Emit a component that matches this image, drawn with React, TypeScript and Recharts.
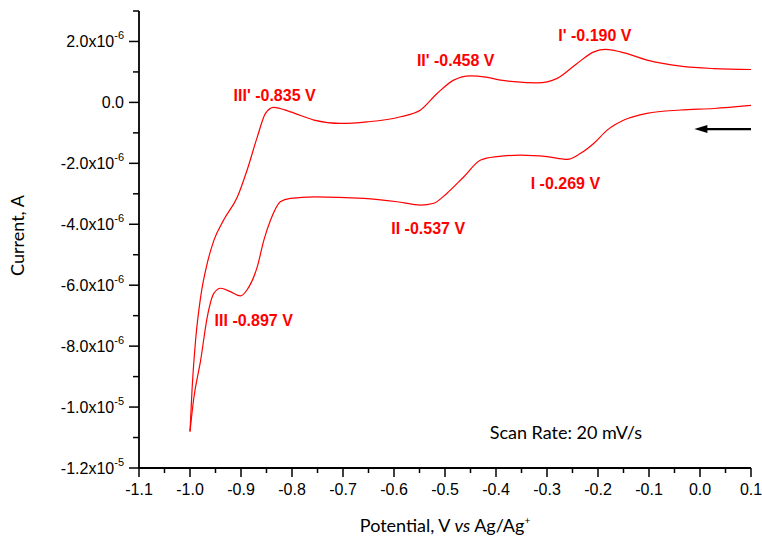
import React from 'react';
import { LineChart, Line, XAxis, YAxis, ReferenceDot, ReferenceLine } from 'recharts';

// cyclic voltammogram, values (current in µA)
// cathodic sweep runs 0.1 -> -1.0 V, stored here in ascending potential
const cathodicPotential = [-1.0, -0.993, -0.979, -0.966, -0.953, -0.94, -0.921, -0.901, -0.888, -0.868, -0.855, -0.842, -0.823, -0.803, -0.757, -0.659, -0.594, -0.548, -0.522, -0.496, -0.463, -0.43, -0.398, -0.352, -0.3, -0.26, -0.234, -0.208, -0.182, -0.149, -0.104, -0.038, 0.027, 0.1];
const cathodicCurrent = [-10.8, -9.76, -8.45, -7.03, -6.26, -6.1, -6.21, -6.35, -6.15, -5.39, -4.51, -3.86, -3.26, -3.15, -3.1, -3.15, -3.26, -3.37, -3.31, -2.98, -2.44, -1.89, -1.78, -1.73, -1.78, -1.87, -1.67, -1.34, -0.91, -0.58, -0.36, -0.25, -0.2, -0.1];

// anodic sweep -1.0 -> 0.1 V
const anodicPotential = [-1.0, -0.996, -0.989, -0.979, -0.966, -0.953, -0.934, -0.907, -0.888, -0.868, -0.852, -0.836, -0.803, -0.757, -0.705, -0.653, -0.587, -0.548, -0.515, -0.483, -0.45, -0.42, -0.391, -0.365, -0.319, -0.28, -0.241, -0.208, -0.185, -0.156, -0.104, -0.038, 0.027, 0.1];
const anodicCurrent = [-10.8, -9.43, -7.8, -6.37, -5.27, -4.52, -3.86, -3.1, -2.22, -1.13, -0.36, -0.16, -0.31, -0.58, -0.69, -0.64, -0.47, -0.25, 0.3, 0.73, 0.87, 0.83, 0.73, 0.68, 0.64, 0.79, 1.28, 1.66, 1.74, 1.66, 1.39, 1.19, 1.11, 1.08];

const peakLabels = ["I' -0.190 V", "II' -0.458 V", "III' -0.835 V", 'I -0.269 V', 'II -0.537 V', 'III -0.897 V'];
const peakLabelX = [-0.206, -0.479, -0.834, -0.264, -0.533, -0.875];
const peakLabelY = [2.21, 1.4, 0.24, -2.66, -4.13, -7.14];

const xTicks = [-1.1, -1.05, -1.0, -0.95, -0.9, -0.85, -0.8, -0.75, -0.7, -0.65, -0.6, -0.55, -0.5, -0.45, -0.4, -0.35, -0.3, -0.25, -0.2, -0.15, -0.1, -0.05, 0.0, 0.05, 0.1];
const yTicksMicro = [-12, -11, -10, -9, -8, -7, -6, -5, -4, -3, -2, -1, 0, 1, 2, 3];

const uA = 1e-6;
const cathodic = cathodicPotential.map((p, i) => ({ potential: p, current: cathodicCurrent[i] * uA }));
const anodic = anodicPotential.map((p, i) => ({ potential: p, current: anodicCurrent[i] * uA }));
const yTicks = yTicksMicro.map((v) => v * uA);

const tickFont = '"Liberation Sans", Arial, sans-serif';
const titleFont = 'Lato, "Open Sans", sans-serif';

const XTick = (props: any) => {
  const { x, y, payload } = props;
  const v = payload.value as number;
  const major = Math.round(v * 100) % 10 === 0;
  return (
    <g>
      <line x1={x} y1={y} x2={x} y2={y + (major ? 9 : 5)} stroke="#000" strokeWidth={1.5} />
      {major && (
        <text x={x} y={y + 27} textAnchor="middle" fontFamily={tickFont} fontSize={16} fill="#000">
          {v.toFixed(1)}
        </text>
      )}
    </g>
  );
};

const YTick = (props: any) => {
  const { x, y, payload } = props;
  const v = payload.value as number;
  const micro = Math.round(v / uA);
  const major = micro % 2 === 0;
  let main = '0.0';
  let exp = '';
  if (micro !== 0) {
    const e = Math.floor(Math.log10(Math.abs(v)) + 1e-9);
    main = (v / Math.pow(10, e)).toFixed(1) + 'x10';
    exp = String(e);
  }
  return (
    <g>
      <line x1={x} y1={y} x2={x - (major ? 10 : 6)} y2={y} stroke="#000" strokeWidth={1.5} />
      {major && (
        <text x={x - 15} y={y + 6} textAnchor="end" fontFamily={tickFont} fontSize={16} fill="#000">
          {main}
          {exp && (
            <tspan fontSize={11} dy={-8}>
              {exp}
            </tspan>
          )}
        </text>
      )}
    </g>
  );
};

const Arrow = (props: any) => {
  const { x1, y1, x2, y2 } = props;
  const left = Math.min(x1, x2);
  const right = Math.max(x1, x2);
  return (
    <g>
      <line x1={right} y1={y1} x2={left + 8} y2={y2} stroke="#000" strokeWidth={2.2} />
      <polygon points={`${left},${y1} ${left + 13},${y1 - 4} ${left + 13},${y1 + 4}`} fill="#000" />
    </g>
  );
};

export default function App() {
  return (
    <div style={{ position: 'absolute', left: 0, top: 0, background: '#fff' }}>
      <LineChart width={762} height={539} margin={{ top: 11, right: 11, left: 0, bottom: 0 }}>
        <XAxis
          dataKey="potential"
          type="number"
          domain={[-1.1, 0.1]}
          ticks={xTicks}
          interval={0}
          allowDataOverflow
          tickSize={0}
          tickMargin={0}
          tickLine={false}
          tick={<XTick />}
          axisLine={{ stroke: '#000', strokeWidth: 1.8 }}
          height={71}
          label={(p: any) => {
            const vb = p.viewBox;
            const cx = vb.x + vb.width / 2;
            return (
              <text x={cx} y={532} textAnchor="middle" fontFamily={titleFont} fontSize={18} fill="#000">
                Potential, V <tspan fontStyle="italic">vs</tspan> Ag/Ag
                <tspan fontSize={10} dy={-8}>+</tspan>
              </text>
            );
          }}
        />
        <YAxis
          dataKey="current"
          type="number"
          domain={[-12e-6, 3e-6]}
          ticks={yTicks}
          interval={0}
          allowDataOverflow
          tickSize={0}
          tickMargin={0}
          tickLine={false}
          tick={<YTick />}
          axisLine={{ stroke: '#000', strokeWidth: 1.8 }}
          width={139}
          label={(p: any) => {
            const vb = p.viewBox;
            const cy = vb.y + vb.height / 2 - 4;
            return (
              <text x={24} y={cy} textAnchor="middle" fontFamily={titleFont} fontSize={18} fill="#000" transform={`rotate(-90, 24, ${cy})`}>
                Current, A
              </text>
            );
          }}
        />
        <Line data={cathodic} dataKey="current" type="monotone" stroke="#ff0000" strokeWidth={1.2} dot={false} isAnimationActive={false} />
        <Line data={anodic} dataKey="current" type="monotone" stroke="#ff0000" strokeWidth={1.2} dot={false} isAnimationActive={false} />
        {peakLabels.map((t, i) => (
          <ReferenceDot
            key={t}
            x={peakLabelX[i]}
            y={peakLabelY[i] * uA}
            r={0}
            shape={(s: any) => (
              <text x={s.cx} y={s.cy} dy={6} textAnchor="middle" fontFamily={tickFont} fontWeight="bold" fontSize={16} fill="#ff0000">
                {t}
              </text>
            )}
          />
        ))}
        <ReferenceDot
          x={-0.263}
          y={-10.84 * uA}
          r={0}
          shape={(s: any) => (
            <text x={s.cx} y={s.cy} dy={6} textAnchor="middle" fontFamily={titleFont} fontSize={18} fill="#000">
              Scan Rate: 20 mV/s
            </text>
          )}
        />
        <ReferenceLine
          segment={[
            { x: 0.1, y: -0.875 * uA },
            { x: -0.011, y: -0.875 * uA },
          ]}
          shape={<Arrow />}
        />
      </LineChart>
    </div>
  );
}
